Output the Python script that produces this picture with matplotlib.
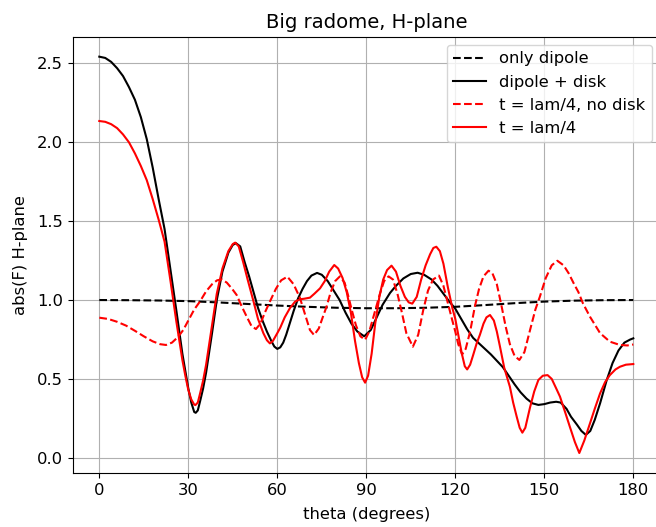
import matplotlib
matplotlib.use("Agg")
import matplotlib.pyplot as plt

title = "Big radome, H-plane"
xlabel = "theta (degrees)"
ylabel = "abs(F) H-plane"
xticks = [0, 30, 60, 90, 120, 150, 180]

# only dipole (black dashed)
th_dip = [0, 10, 20, 30, 40, 50, 60, 70, 80, 90, 100, 110, 120, 130, 140, 150, 160, 170, 180]
v_dip = [1.0, 0.999, 0.997, 0.993, 0.985, 0.975, 0.965, 0.957, 0.951, 0.948, 0.948, 0.951,
         0.957, 0.968, 0.980, 0.990, 0.996, 0.999, 1.0]

# dipole + disk (black solid)
th_disk = [0, 2, 4, 6, 8, 10, 12, 14, 16, 18, 20, 22, 24, 26, 28, 29, 30, 31, 32, 32.5, 33.2,
           34, 35, 36, 38, 39.6, 41.5, 43.5, 45, 46.1, 47.5, 49, 50.5, 52, 53.5, 55, 56.5, 58,
           59, 60, 61, 62, 63, 64, 65.5, 67, 68.5, 70, 71.5, 73.4, 75, 77, 79, 81, 83, 85, 87,
           89.3, 91.5, 93.5, 95.5, 98, 100, 102.5, 105, 107.3, 109.5, 112, 114, 116, 118, 120,
           122, 124, 126, 128, 130, 132, 134, 136, 138, 140, 142, 144, 146, 148, 150, 152, 154,
           155.5, 157.5, 159, 161, 162.5, 164, 165.5, 167, 168.8, 171, 173, 175, 177, 179, 180]
v_disk = [2.543, 2.535, 2.51, 2.47, 2.42, 2.35, 2.27, 2.16, 2.02, 1.84, 1.64, 1.45, 1.19,
          0.93, 0.66, 0.55, 0.44, 0.35, 0.29, 0.285, 0.30,
          0.36, 0.44, 0.54, 0.79, 1.0, 1.18, 1.30, 1.35, 1.36, 1.34, 1.24, 1.15, 1.05, 0.95,
          0.87, 0.80, 0.74,
          0.705, 0.69, 0.70, 0.73, 0.78, 0.84, 0.93, 1.01, 1.07, 1.12, 1.155, 1.172, 1.16, 1.12,
          1.06, 1.0, 0.92, 0.85, 0.80,
          0.77, 0.81, 0.89, 0.97, 1.045, 1.09, 1.137, 1.165, 1.173, 1.16, 1.13, 1.09, 1.04,
          0.99, 0.945,
          0.88, 0.815, 0.76, 0.725, 0.69, 0.655, 0.615, 0.575, 0.52, 0.465, 0.415, 0.375,
          0.345, 0.335, 0.34, 0.35, 0.355,
          0.35, 0.31, 0.26, 0.21, 0.17, 0.145, 0.17, 0.24, 0.345, 0.49, 0.60, 0.68, 0.73,
          0.75, 0.757]

# t = lam/4, no disk (red dashed)
th_nodisk = [0, 3, 6, 9, 12, 15, 18, 20.5, 22.5, 24.5, 26.5, 28.3, 30, 32, 33.9, 36, 38,
             39.7, 41.3, 43, 44.8, 46.3, 48, 49.7, 51.3, 52.8, 54.3, 55.8, 57.5, 59.5, 61.3,
             63.4, 65.5, 67.6, 69.5, 71, 72.4, 74, 75.3, 76.6, 78, 79.5, 81.1, 82.7, 84, 85.1,
             86.5, 88, 89.6, 91, 92.5, 94.6, 96, 97.5, 99, 100.5, 102, 103.5, 105.7, 107.5,
             109.2, 110.8, 112.5, 114.5, 116, 117.5, 119, 120, 121, 122.3, 123.5, 125, 126.6,
             128, 129.5, 131.2, 132.5, 134, 135.5, 137, 138.4, 140, 141.6, 143.3, 145.2, 147,
             148.5, 150.5, 152.5, 154.4, 156.5, 158.2, 159.8, 161.5, 163, 165.4, 168.8, 172.1,
             175.5, 178, 180]
v_nodisk = [0.888, 0.880, 0.862, 0.838, 0.805, 0.770, 0.738, 0.72, 0.715, 0.73, 0.765,
            0.81, 0.87, 0.94, 0.99, 1.055, 1.10,
            1.125, 1.131, 1.11, 1.07, 1.032, 0.96, 0.894, 0.835, 0.816, 0.85, 0.92, 0.99,
            1.07, 1.125,
            1.148, 1.10, 1.015, 0.90, 0.81, 0.778, 0.82, 0.89, 0.958, 1.05, 1.12, 1.15, 1.11,
            1.02, 0.937,
            0.84, 0.77, 0.748, 0.80, 0.90, 1.04, 1.12, 1.15, 1.13, 1.04, 0.92, 0.79, 0.704,
            0.78,
            0.937, 1.06, 1.13, 1.155, 1.09, 0.98, 0.87, 0.80, 0.72, 0.655, 0.69, 0.80, 0.96,
            1.07, 1.15, 1.186, 1.17, 1.10, 0.97, 0.83, 0.72, 0.645, 0.62, 0.67, 0.81, 0.94,
            1.021, 1.14, 1.22, 1.249, 1.22, 1.17, 1.11, 1.05, 0.98, 0.894, 0.79, 0.736,
            0.715, 0.712, 0.718]

# t = lam/4 (red solid)
th_lam = [0, 2, 4, 6, 8, 10, 12, 14, 16, 18, 20, 22, 24, 26, 28, 29, 30, 31, 32, 32.4, 33.2,
          34, 35, 36, 38, 39.6, 41.5, 43.5, 45, 45.8, 47, 48.5, 50, 51, 52, 53.5, 55.3, 56.5,
          57.5, 58.5, 60, 61, 62.5, 64.3, 66, 67.6, 69, 71, 72.5, 74.4, 76, 77.5, 79.2, 80.5,
          82, 83.4, 84.8, 86.2, 87.5, 88.6, 89.6, 90.6, 91.8, 93, 94.4, 95.7, 97, 98.5, 100,
          101.5, 103, 104.3, 105.5, 107, 108.5, 110, 111.5, 112.6, 113.6, 114.8, 116, 117.5,
          119, 120, 121, 122.2, 123.2, 124, 125, 126, 127.2, 128.3, 129.5, 130.5, 131.7, 133,
          134, 135, 136.5, 138.4, 139.5, 140.7, 141.7, 142.6, 143.6, 145.2, 146.6, 148, 149.5,
          151.1, 152.5, 154, 155.3, 157, 158.6, 160.3, 161.8, 163.5, 165.4, 167, 168.8, 170.5,
          172.1, 174, 175.5, 177.5, 180]
v_lam = [2.135, 2.13, 2.115, 2.09, 2.05, 2.0, 1.93, 1.85, 1.76, 1.64, 1.51, 1.37, 1.12, 0.86,
         0.62, 0.52, 0.43, 0.37, 0.337, 0.334, 0.35,
         0.41, 0.49, 0.59, 0.84, 1.04, 1.20, 1.31, 1.355, 1.364, 1.34, 1.24, 1.13, 1.06, 0.99,
         0.88, 0.79, 0.745,
         0.725, 0.74, 0.79, 0.825, 0.89, 0.95, 0.99, 1.005, 1.008, 1.015, 1.04, 1.074, 1.12,
         1.18, 1.222, 1.20,
         1.14, 1.05, 0.92, 0.74, 0.60, 0.51, 0.476, 0.52, 0.66, 0.85, 1.02, 1.13, 1.19, 1.218,
         1.18,
         1.09, 1.02, 0.985, 0.977, 1.02, 1.13, 1.22, 1.29, 1.33, 1.338, 1.31, 1.23, 1.08,
         0.95, 0.88, 0.78, 0.66, 0.58, 0.56, 0.59, 0.65, 0.725, 0.78, 0.85, 0.89, 0.905, 0.87,
         0.80, 0.71, 0.57, 0.45, 0.35, 0.26, 0.19, 0.159, 0.19, 0.32, 0.42, 0.493, 0.52,
         0.524, 0.50, 0.44, 0.387, 0.29, 0.197, 0.10, 0.03, 0.11, 0.218, 0.31, 0.408, 0.48,
         0.524, 0.56, 0.577, 0.59, 0.594]

plt.rcParams["font.size"] = 11.75

W, H = 656, 527
fig = plt.figure(figsize=(W / 100, H / 100), dpi=100)
ax = fig.add_axes([72.6 / W, (H - 473.2) / H, (660 - 72.6) / W, (473.2 - 36.8) / H])

ax.plot(th_dip, v_dip, "k--", lw=1.5, label="only dipole")
ax.plot(th_disk, v_disk, "k-", lw=1.5, label="dipole + disk")
ax.plot(th_nodisk, v_nodisk, "r--", lw=1.5, label="t = lam/4, no disk")
ax.plot(th_lam, v_lam, "r-", lw=1.5, label="t = lam/4")

ax.set_xticks(xticks)
ax.set_xlim(-9, 189)
ax.set_ylim(-0.098, 2.669)
ax.grid(True)
ax.set_title(title, fontsize=14.1)
ax.set_xlabel(xlabel, labelpad=6.8)
ax.set_ylabel(ylabel, labelpad=6)
ax.legend(loc="upper right")

fig.savefig("out.png", dpi=100)
